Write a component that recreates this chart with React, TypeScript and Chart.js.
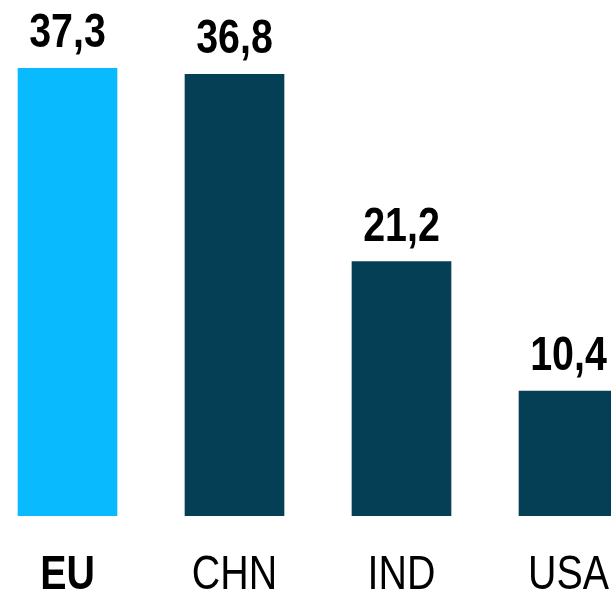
import React, { useEffect, useRef } from "react";
import { Chart, registerables } from "chart.js";

Chart.register(...registerables);

const categories = ["EU", "CHN", "IND", "USA"];
const values = [37.3, 36.8, 21.2, 10.4];
const barColors = ["#0ABAFF", "#043F56", "#043F56", "#043F56"];
const boldLabel = [true, false, false, false];

const FONT = "'Liberation Sans', Arial, sans-serif";
const NARROW = 0.82;

export default function App() {
  const ref = useRef<HTMLCanvasElement | null>(null);

  useEffect(() => {
    if (!ref.current) return;
    const drawNarrow = (ctx: CanvasRenderingContext2D, text: string, x: number, y: number) => {
      ctx.save();
      ctx.translate(x, y);
      ctx.scale(NARROW, 1);
      ctx.fillText(text, 0, 0);
      ctx.restore();
    };
    const labelPlugin = {
      id: "labels",
      afterDatasetsDraw(chart: any) {
        const ctx = chart.ctx;
        const meta = chart.getDatasetMeta(0);
        ctx.save();
        ctx.fillStyle = "#000000";
        ctx.textAlign = "center";
        ctx.textBaseline = "alphabetic";
        meta.data.forEach((bar: any, i: number) => {
          ctx.font = `bold 48px ${FONT}`;
          drawNarrow(ctx, values[i].toFixed(1).replace(".", ","), bar.x, bar.y - 21);
          ctx.font = `${boldLabel[i] ? "bold " : ""}48px ${FONT}`;
          drawNarrow(ctx, categories[i], bar.x, 589);
        });
        ctx.restore();
      },
    };
    const chart = new Chart(ref.current, {
      type: "bar",
      data: {
        datasets: [
          {
            data: values.map((v, i) => ({ x: i, y: v })),
            backgroundColor: barColors,
            barThickness: 99,
            borderWidth: 0,
          },
        ],
      },
      options: {
        responsive: false,
        animation: false,
        layout: { padding: { top: 36, bottom: 77, left: 0, right: 0 } },
        plugins: { legend: { display: false }, tooltip: { enabled: false } },
        scales: {
          x: { type: "linear", min: -0.4042, max: 3.2545, offset: false, display: false },
          y: { min: 0, max: 40, display: false },
        },
      },
      plugins: [labelPlugin],
    });
    return () => chart.destroy();
  }, []);

  return (
    <div style={{ position: "absolute", left: 0, top: 0, width: 611, height: 593, background: "#fff" }}>
      <canvas ref={ref} width={611} height={593} style={{ width: 611, height: 593 }} />
    </div>
  );
}
